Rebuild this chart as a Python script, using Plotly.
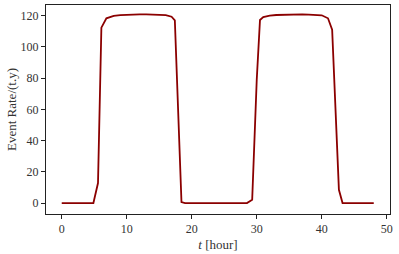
import plotly.graph_objects as go

# Time (hours) and event rate
t_hours = [0, 4.87, 5.58, 6.1, 6.87, 8, 9, 10, 11, 12, 13, 14, 15, 16, 16.9, 17.4,
           18.42, 18.97, 28.5, 29.3, 30.0, 30.5, 31.0, 32, 33, 34, 35, 36, 37, 38,
           39, 40, 40.96, 41.6, 42.64, 43.2, 48.0]
event_rate = [0, 0, 12.8, 112.3, 118.3, 119.9, 120.3, 120.6, 120.7, 120.8, 120.8,
              120.7, 120.6, 120.3, 119.3, 117.0, 0.6, 0, 0, 2.1, 79, 117.2, 119.0,
              120.0, 120.4, 120.6, 120.8, 120.8, 120.8, 120.7, 120.5, 120.2, 118.3,
              111.0, 8.5, 0, 0]

x_ticks = [0, 10, 20, 30, 40, 50]
y_ticks = [0, 20, 40, 60, 80, 100, 120]

FONT = "Liberation Serif"

fig = go.Figure()
fig.add_trace(go.Scatter(x=t_hours, y=event_rate, mode="lines",
                         line=dict(color="#8b0000", width=1.8),
                         showlegend=False, hoverinfo="skip"))

axis_common = dict(showline=True, linecolor="#222", linewidth=1, mirror=True,
                   ticks="outside", ticklen=4, tickcolor="#222", tickwidth=1,
                   showgrid=False, zeroline=False,
                   tickfont=dict(family=FONT, size=12, color="#333"))

fig.update_xaxes(range=[-2.42, 50.5], tickvals=x_ticks,
                 title=dict(text="<i>t</i> [hour]", font=dict(family=FONT, size=13, color="#333"),
                            standoff=4),
                 **axis_common)
fig.update_yaxes(range=[-7.0, 126.8], tickvals=y_ticks,
                 title=dict(text="Event Rate/(t.y)", font=dict(family=FONT, size=13, color="#333"),
                            standoff=1),
                 **axis_common)

fig.update_layout(width=399, height=254,
                  margin=dict(l=46, r=9, t=5, b=40, autoexpand=False),
                  paper_bgcolor="white", plot_bgcolor="white",
                  font=dict(family=FONT))

fig.write_html("out.html", config={"displayModeBar": False, "staticPlot": True},
               post_script="document.body.style.margin='0';document.body.style.padding='0';")
